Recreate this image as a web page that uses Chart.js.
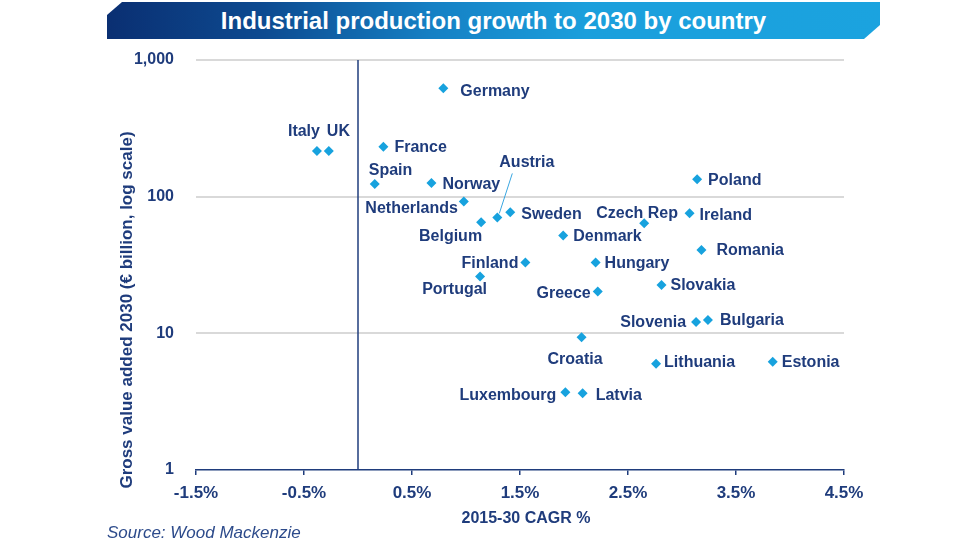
<!DOCTYPE html>
<html><head><meta charset="utf-8">
<script src="https://cdn.jsdelivr.net/npm/chart.js@4"></script>
<style>
html,body{margin:0;padding:0;background:#fff;}
#wrap{position:relative;width:976px;height:549px;overflow:hidden;}
#titlebar{position:absolute;left:107px;top:2px;width:773px;height:37px;
 clip-path:polygon(15px 0,773px 0,773px 23px,757px 37px,0 37px,0 13px);
 background:linear-gradient(to right,#0a2f72 0%,#0d4a90 20%,#1580c4 42%,#1b9fdc 62%,#1ba3df 100%);
 color:#fff;font:bold 24px "Liberation Sans",Arial,sans-serif;text-align:center;line-height:37px;}
#source{position:absolute;left:107px;top:523px;font:italic 17px "Liberation Sans",Arial,sans-serif;color:#2d4b8b;line-height:20px;}
canvas{position:absolute;left:0;top:0;}
</style></head>
<body><div id="wrap"><canvas id="c" width="976" height="549"></canvas>
<div id="titlebar">Industrial production growth to 2030 by country</div>
<div id="source">Source: Wood Mackenzie</div></div>
<script>
const countries=["Germany","France","Italy","UK","Spain","Norway","Netherlands","Belgium","Austria","Sweden","Denmark","Czech Rep","Poland","Ireland","Romania","Finland","Hungary","Portugal","Greece","Slovakia","Slovenia","Bulgaria","Croatia","Lithuania","Estonia","Luxembourg","Latvia"];
const cagrPct=[0.79,0.235,-0.38,-0.27,0.155,0.68,0.98,1.14,1.29,1.41,1.90,2.65,3.14,3.07,3.18,1.55,2.20,1.13,2.22,2.81,3.13,3.24,2.07,2.76,3.84,1.92,2.08];
const gvaBn=[620,232,216,216,124,126,92,65,70.5,77,52,64,134,75.5,40.7,33,33,26,20.2,22.6,12.1,12.5,9.35,6.0,6.2,3.7,3.64];
const xTickValues=[-1.5,-0.5,0.5,1.5,2.5,3.5,4.5];
const yTickValues=[1,10,100,1000];
const xAxisTitle='2015-30 CAGR %';
const yAxisTitle='Gross value added 2030 (€ billion, log scale)';

// layout of the point labels: [textAlign, dx, dy] relative to the marker
const labelPlacement=[
 ['left',17,3],['left',11,1],['right',3,-19],['left',-2,-19],['left',-6,-13],['left',11,2],
 ['right',-6,7],['right',1,14],['left',2,-55],['left',11,2],['left',10,1],['left',-48,-10],
 ['left',11,1],['left',10,2],['left',15,1],['right',-7,1],['left',9,1],['right',7,13],
 ['right',-7,2],['left',9,1],['right',-10,1],['left',12,1],['left',-34,22],['left',8,-1],
 ['left',9,1],['right',-9,3],['left',13,2]
];
const leaderFor='Austria';
const leaderOffsets=[2,-4,15,-44];

const F='"Liberation Sans", Arial, sans-serif';
const NAVY='#1f3c7c';
const POINT='#17a2de';

const points=countries.map((c,i)=>({x:cagrPct[i],y:gvaBn[i]}));

const labelsPlugin={id:'pointLabels',afterDatasetsDraw(chart){
  const meta=chart.getDatasetMeta(1);const c=chart.ctx;
  c.save();c.font='bold 16px '+F;c.fillStyle=NAVY;c.textBaseline='middle';
  meta.data.forEach((el,i)=>{const p=labelPlacement[i];c.textAlign=p[0];c.fillText(countries[i],el.x+p[1],el.y+p[2]);});
  const a=meta.data[countries.indexOf(leaderFor)];
  c.strokeStyle='#3aa6e0';c.lineWidth=1;c.beginPath();
  c.moveTo(a.x+leaderOffsets[0],a.y+leaderOffsets[1]);c.lineTo(a.x+leaderOffsets[2],a.y+leaderOffsets[3]);c.stroke();
  c.restore();
}};
const axisTitles={id:'axisTitles',afterDraw(chart){
  const c=chart.ctx;const ca=chart.chartArea;
  c.save();c.fillStyle=NAVY;c.font='bold 16px '+F;c.textAlign='center';c.textBaseline='middle';
  c.fillText(xAxisTitle,(ca.left+ca.right)/2+6,ca.bottom+49);
  c.translate(ca.left-69,(ca.top+ca.bottom)/2+45);c.rotate(-Math.PI/2);
  c.font='bold 17px '+F;c.fillText(yAxisTitle,0,0);
  c.restore();
}};

new Chart(document.getElementById('c'),{
 data:{datasets:[
  {type:'line',data:[{x:0,y:1},{x:0,y:1000}],borderColor:NAVY,borderWidth:1.5,pointRadius:0,pointHoverRadius:0,order:2},
  {type:'scatter',data:points,pointStyle:'rectRot',pointRadius:5,pointHoverRadius:5,backgroundColor:POINT,borderWidth:0,order:1}
 ]},
 options:{responsive:false,animation:false,devicePixelRatio:1,
  layout:{padding:{left:0,right:132,top:60,bottom:0}},
  plugins:{legend:{display:false},tooltip:{enabled:false},title:{display:false}},
  scales:{
   x:{type:'linear',min:-1.5,max:4.5,
     afterBuildTicks:s=>{s.ticks=xTickValues.map(v=>({value:v}));},
     afterFit:s=>{s.height=79;},
     grid:{drawOnChartArea:false,drawTicks:true,tickLength:5,color:NAVY,lineWidth:1.5},
     border:{display:true,color:NAVY,width:1.5},
     ticks:{callback:v=>Number(v).toFixed(1)+'%',font:{family:F,size:17,weight:'bold'},color:NAVY,padding:8,maxRotation:0,autoSkip:false}},
   y:{type:'logarithmic',min:1,max:1000,
     afterBuildTicks:s=>{s.ticks=yTickValues.map(v=>({value:v}));},
     afterFit:s=>{s.width=196;},
     grid:{drawTicks:false,color:c=>(c.tick&&c.tick.value===1)?'rgba(0,0,0,0)':'#d9d9d9',lineWidth:2},
     border:{display:false},
     ticks:{callback:v=>Number(v).toLocaleString('en-US'),font:{family:F,size:16,weight:'bold'},color:NAVY,padding:22,autoSkip:false}}
  }},
 plugins:[labelsPlugin,axisTitles]
});
</script></body></html>
